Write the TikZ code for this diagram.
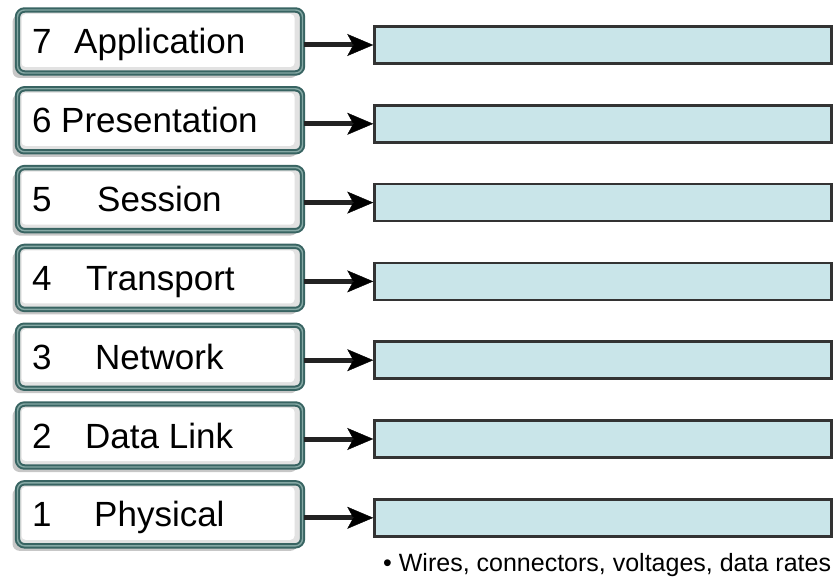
\documentclass[tikz,border=0pt]{standalone}
\usepackage{fontspec}
\setmainfont{Liberation Sans}
\usepackage{tikz}
\usetikzlibrary{arrows.meta,shadows}

\begin{document}
\begin{tikzpicture}
			[x=1pt,y=-1pt,line cap=round,
			%Styles
			layer/.style={rounded corners=7pt,draw=layerteal,double=layerlight,double distance=1.4pt,
				line width=2pt,fill=layergray,minimum width=285pt,minimum height=63pt,inner sep=0pt,
				drop shadow={shadow xshift=-5pt,shadow yshift=-5pt,fill=black!22,opacity=1},
				path picture={\fill[white,rounded corners=4pt]
					([shift={(4pt,-4pt)}]path picture bounding box.north west) rectangle
					([shift={(-8pt,6pt)}]path picture bounding box.south east);}},
			layer text/.style={anchor=base west,inner sep=0pt,font=\fontsize{35}{40}\selectfont},
			info box/.style={draw=infoline,fill=infofill,line width=2.5pt,minimum width=457pt,
				minimum height=37pt,inner sep=0pt},
			push/.style={line width=5pt,draw=arrowgray,line cap=butt,
				-{Stealth[length=26pt,width=22pt,inset=6pt,line width=0.4pt,color=black,fill=black]}},
			note/.style={anchor=base west,inner sep=0pt,font=\fontsize{25}{28}\selectfont}
			]
			
			%Colors
			\definecolor{layerteal}{HTML}{386462}	%layer frame
			\definecolor{layerlight}{HTML}{86A9A5}
			\definecolor{layergray}{HTML}{E2E2E2}
			\definecolor{infofill}{HTML}{C9E5E9}	%right bars
			\definecolor{infoline}{HTML}{333333}
			\definecolor{arrowgray}{HTML}{222222}
			
			\useasboundingbox (0,0) rectangle (835,580);
			
			%The graphic
			\node[layer] (L7) at (160,41.5) {};
			\node[layer] (L6) at (160,120.3) {};
			\node[layer] (L5) at (160,199.1) {};
			\node[layer] (L4) at (160,277.9) {};
			\node[layer] (L3) at (160,356.7) {};
			\node[layer] (L2) at (160,435.5) {};
			\node[layer] (L1) at (160,514.3) {};
			
			\node[layer text] (n7) at (32,54) {7};
			\node[layer text] (t7) at (74,54) {Application};
			\node[layer text] (n6) at (32,132.8) {6};
			\node[layer text] (t6) at (61,132.8) {Presentation};
			\node[layer text] (n5) at (32,211.6) {5};
			\node[layer text] (t5) at (97,211.6) {Session};
			\node[layer text] (n4) at (32,290.4) {4};
			\node[layer text] (t4) at (86,290.4) {Transport};
			\node[layer text] (n3) at (32,369.2) {3};
			\node[layer text] (t3) at (95,369.2) {Network};
			\node[layer text] (n2) at (32,448) {2};
			\node[layer text] (t2) at (85,448) {Data Link};
			\node[layer text] (n1) at (32,526.8) {1};
			\node[layer text] (t1) at (94,526.8) {Physical};
			
			\node[info box] (R7) at (603,45) {};
			\node[info box] (R6) at (603,123.8) {};
			\node[info box] (R5) at (603,202.6) {};
			\node[info box] (R4) at (603,281.4) {};
			\node[info box] (R3) at (603,360.2) {};
			\node[info box] (R2) at (603,439) {};
			\node[info box] (R1) at (603,517.8) {};
			
			\draw[push] (L7.east |- R7.west) -- (R7.west);
			\draw[push] (L6.east |- R6.west) -- (R6.west);
			\draw[push] (L5.east |- R5.west) -- (R5.west);
			\draw[push] (L4.east |- R4.west) -- (R4.west);
			\draw[push] (L3.east |- R3.west) -- (R3.west);
			\draw[push] (L2.east |- R2.west) -- (R2.west);
			\draw[push] (L1.east |- R1.west) -- (R1.west);
				
			\node[note] (wires) at (383,571) {\textbullet\ Wires, connectors, voltages, data rates};
		\end{tikzpicture}
\end{document}
